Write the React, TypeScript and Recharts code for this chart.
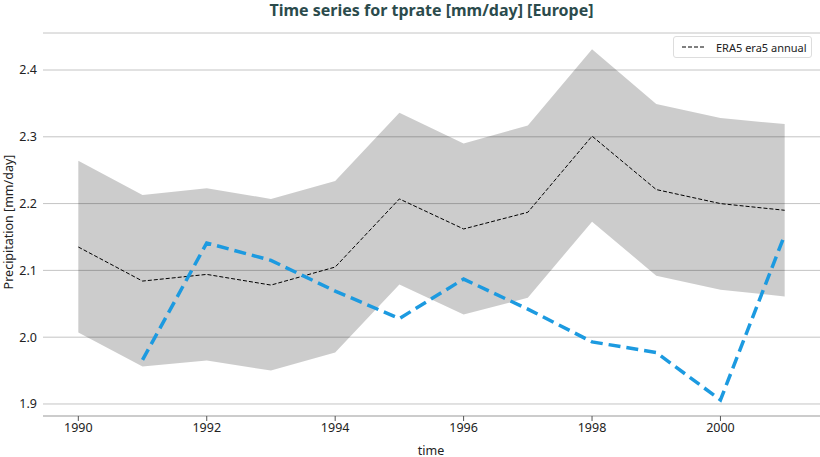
import React from 'react';
import {
  ComposedChart,
  Area,
  Line,
  XAxis,
  YAxis,
  CartesianGrid,
} from 'recharts';

const years = [1990, 1991, 1992, 1993, 1994, 1995, 1996, 1997, 1998, 1999, 2000, 2001];
const era5 = [2.135, 2.084, 2.094, 2.078, 2.105, 2.207, 2.162, 2.187, 2.301, 2.221, 2.2, 2.19];
const bandHigh = [2.264, 2.213, 2.223, 2.207, 2.234, 2.336, 2.29, 2.317, 2.431, 2.349, 2.328, 2.319];
const bandLow = [2.007, 1.956, 1.965, 1.95, 1.977, 2.079, 2.034, 2.059, 2.173, 2.092, 2.071, 2.061];
const model = [null, 1.966, 2.141, 2.115, 2.069, 2.028, 2.087, 2.042, 1.993, 1.977, 1.906, 2.153];

const xTicks = [1990, 1992, 1994, 1996, 1998, 2000];
const yTicks = [1.9, 2.0, 2.1, 2.2, 2.3, 2.4];

const data = years.map((year, i) => ({
  year,
  era5: era5[i],
  band: [bandLow[i], bandHigh[i]],
  model: model[i],
}));

if (typeof document !== 'undefined') {
  document.body.style.margin = '0';
}

const FONT = '"Noto Sans", sans-serif';

export default function App() {
  return (
    <div style={{ position: 'relative', width: 820, height: 457, fontFamily: FONT, background: '#fff' }}>
      <div
        style={{
          position: 'absolute',
          top: 0,
          left: 43,
          width: 777,
          textAlign: 'center',
          fontSize: 16,
          fontWeight: 700,
          color: '#2b4b4c',
          lineHeight: '20px',
        }}
      >
        Time series for tprate [mm/day] [Europe]
      </div>

      <ComposedChart
        width={820}
        height={457}
        data={data}
        margin={{ top: 33, right: 0, bottom: 0, left: 0 }}
      >
        <CartesianGrid vertical={false} stroke="#c4c4c4" strokeWidth={1} />
        <XAxis
          dataKey="year"
          type="number"
          domain={[1989.45, 2001.55]}
          ticks={xTicks}
          allowDataOverflow
          height={41}
          stroke="#cccccc"
          tickLine={{ stroke: '#555' }}
          tickSize={5}
          tick={{ fill: '#222', fontSize: 12.5, fontFamily: FONT }}
          axisLine={{ stroke: '#cccccc', strokeWidth: 2 }}
        />
        <YAxis
          type="number"
          domain={[1.882, 2.4554]}
          ticks={yTicks}
          allowDataOverflow
          width={43}
          axisLine={false}
          tickLine={false}
          tickSize={4}
          tickFormatter={(v: number) => v.toFixed(1)}
          tick={{ fill: '#222', fontSize: 12.5, fontFamily: FONT }}
        />
        <Area
          dataKey="band"
          stroke="none"
          fill="#000"
          fillOpacity={0.2}
          isAnimationActive={false}
          activeDot={false}
        />
        <Line
          dataKey="era5"
          stroke="#000"
          strokeWidth={1}
          strokeDasharray="4 2"
          dot={false}
          isAnimationActive={false}
        />
        <Line
          dataKey="model"
          stroke="#1c9ae0"
          strokeWidth={3.5}
          strokeDasharray="12 6"
          dot={false}
          connectNulls={false}
          isAnimationActive={false}
        />
      </ComposedChart>

      <div
        style={{
          position: 'absolute',
          left: 8,
          top: 222,
          transform: 'translate(-50%, -50%) rotate(-90deg)',
          whiteSpace: 'nowrap',
          fontSize: 12.5,
          color: '#222',
        }}
      >
        Precipitation [mm/day]
      </div>

      <div
        style={{
          position: 'absolute',
          left: 431,
          top: 450,
          transform: 'translate(-50%, -50%)',
          fontSize: 12.5,
          color: '#222',
        }}
      >
        time
      </div>

      <div
        style={{
          position: 'absolute',
          left: 673,
          top: 36,
          width: 139,
          height: 22,
          boxSizing: 'border-box',
          border: '1px solid #dddddd',
          borderRadius: 3,
          background: '#fff',
          display: 'flex',
          alignItems: 'center',
          fontSize: 11,
          color: '#222',
        }}
      >
        <svg width={36} height={10} style={{ marginLeft: 6 }}>
          <line x1={2} y1={5} x2={26} y2={5} stroke="#000" strokeWidth={1} strokeDasharray="4 2" />
        </svg>
        <span>ERA5 era5 annual</span>
      </div>
    </div>
  );
}
